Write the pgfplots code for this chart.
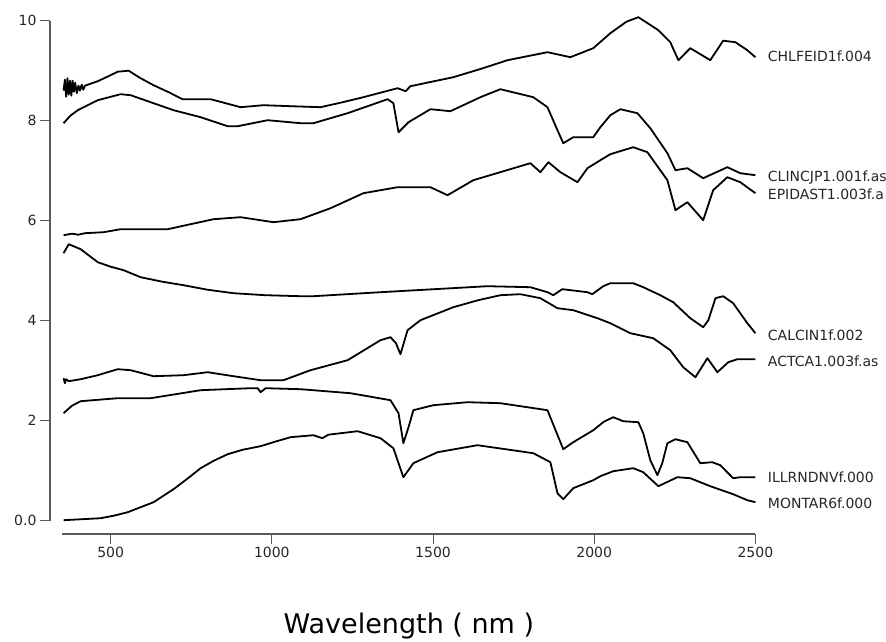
\documentclass[border=0pt]{standalone}
\usepackage{fontspec}
\setmainfont{DejaVu Sans}
\usepackage{pgfplots}
\pgfplotsset{compat=1.18}
\begin{document}
\begin{tikzpicture}
\path[use as bounding box] (-62.3pt,-120.3pt) rectangle (823.7pt,520.7pt);
\begin{axis}[
  at={(0pt,0pt)}, anchor=south west,
  scale only axis, width=693.1pt, height=500pt,
  xmin=350, xmax=2500, ymin=0, ymax=10, clip=false,
  axis x line*=bottom, axis y line*=left,
  axis line style={-, draw=black!65, line width=1.2pt},
  axis x line shift=13.3pt, axis y line shift=12.3pt,
  tick align=outside, major tick length=10pt,
  tick style={draw=black!65, line width=1pt},
  xtick={500,1000,1500,2000,2500}, xticklabels={500,1000,1500,2000,2500},
  ytick={0,2,4,6,8,10}, yticklabels={0.0,2,4,6,8,10},
  tick label style={font=\fontsize{14}{16}\selectfont, text=black!85},
  xlabel={Wavelength ( nm )},
  x label style={at={(axis description cs:0.5,0)}, anchor=base, yshift=-112.3pt,
                 font=\fontsize{27}{30}\selectfont},
  spec/.style={black, solid, line width=1.8pt, line join=round, no marks},
]
% CHLFEID1f.004
\addplot[spec] coordinates {(354,8.6) (358,8.82) (362,8.48) (366,8.85) (370,8.52) (374,8.8) (378,8.5) (382,8.8) (386,8.58) (390,8.76) (395,8.55) (400,8.7) (405,8.6) (410,8.72) (415,8.62) (420,8.7) (460,8.79) (490,8.88) (522,8.98) (556,9.0) (590,8.86) (633,8.71) (680,8.57) (723,8.43) (810,8.43) (903,8.27) (974,8.31) (1058,8.29) (1151,8.27) (1220,8.37) (1284,8.47) (1390,8.65) (1415,8.59) (1430,8.69) (1563,8.87) (1650,9.04) (1731,9.21) (1855,9.37) (1926,9.27) (1997,9.45) (2050,9.75) (2100,9.98) (2137,10.07) (2199,9.81) (2236,9.57) (2261,9.21) (2298,9.45) (2360,9.21) (2400,9.6) (2438,9.57) (2475,9.41) (2500,9.27)};
% CLINCJP1.001f.asc
\addplot[spec] coordinates {(354,7.95) (375,8.1) (398,8.21) (460,8.41) (531,8.53) (562,8.51) (624,8.37) (695,8.21) (779,8.07) (863,7.89) (894,7.89) (987,8.01) (1089,7.95) (1129,7.95) (1235,8.15) (1359,8.43) (1377,8.35) (1393,7.77) (1424,7.97) (1492,8.23) (1554,8.19) (1647,8.47) (1709,8.63) (1811,8.47) (1855,8.27) (1886,7.81) (1904,7.55) (1935,7.67) (1997,7.67) (2019,7.87) (2050,8.11) (2081,8.23) (2134,8.15) (2174,7.85) (2227,7.35) (2252,7.01) (2289,7.05) (2338,6.85) (2413,7.07) (2453,6.95) (2500,6.91)};
% EPIDAST1.003f.asc
\addplot[spec] coordinates {(354,5.71) (380,5.74) (400,5.72) (420,5.75) (478,5.77) (531,5.83) (677,5.83) (819,6.03) (903,6.07) (1005,5.97) (1089,6.03) (1182,6.25) (1284,6.55) (1390,6.67) (1492,6.67) (1545,6.51) (1625,6.81) (1802,7.15) (1833,6.97) (1858,7.17) (1895,6.97) (1948,6.77) (1979,7.05) (2019,7.21) (2050,7.33) (2121,7.47) (2165,7.37) (2227,6.81) (2252,6.21) (2289,6.37) (2338,6.01) (2369,6.61) (2413,6.87) (2453,6.77) (2500,6.55)};
% CALCIN1f.002
\addplot[spec] coordinates {(354,5.35) (370,5.53) (407,5.43) (460,5.17) (500,5.08) (540,5.01) (593,4.87) (660,4.78) (726,4.71) (800,4.62) (881,4.55) (980,4.51) (1089,4.49) (1129,4.49) (1337,4.57) (1669,4.69) (1802,4.67) (1855,4.57) (1873,4.51) (1901,4.63) (1979,4.57) (1994,4.53) (2028,4.69) (2050,4.75) (2121,4.75) (2152,4.67) (2205,4.51) (2245,4.37) (2298,4.05) (2338,3.87) (2354,4.01) (2376,4.45) (2400,4.49) (2431,4.35) (2475,3.95) (2500,3.75)};
% ACTCA1.003f.asc
\addplot[spec] coordinates {(354,2.85) (358,2.75) (362,2.83) (370,2.79) (407,2.83) (460,2.91) (522,3.03) (562,3.01) (633,2.89) (726,2.91) (801,2.97) (881,2.89) (965,2.81) (1036,2.81) (1120,3.01) (1235,3.21) (1337,3.61) (1368,3.67) (1385,3.55) (1399,3.33) (1421,3.81) (1461,4.01) (1563,4.27) (1640,4.41) (1709,4.51) (1771,4.53) (1833,4.45) (1886,4.25) (1935,4.21) (2010,4.05) (2050,3.95) (2112,3.75) (2183,3.65) (2236,3.41) (2276,3.07) (2314,2.87) (2351,3.25) (2382,2.97) (2416,3.17) (2444,3.23) (2500,3.23)};
% ILLRNDNVf.000
\addplot[spec] coordinates {(354,2.15) (380,2.3) (407,2.39) (522,2.45) (624,2.45) (779,2.61) (934,2.65) (956,2.65) (965,2.57) (981,2.65) (1089,2.63) (1244,2.55) (1368,2.41) (1393,2.15) (1408,1.55) (1424,1.87) (1439,2.21) (1501,2.31) (1607,2.37) (1709,2.35) (1855,2.21) (1880,1.81) (1904,1.43) (1935,1.57) (1997,1.81) (2030,1.98) (2059,2.07) (2090,1.99) (2137,1.97) (2152,1.75) (2174,1.21) (2196,0.91) (2211,1.15) (2227,1.55) (2252,1.63) (2289,1.57) (2329,1.15) (2366,1.17) (2391,1.11) (2431,0.85) (2453,0.87) (2500,0.87)};
% MONTAR6f.000
\addplot[spec] coordinates {(354,0.01) (469,0.05) (510,0.1) (553,0.17) (633,0.37) (695,0.63) (740,0.85) (779,1.05) (820,1.2) (863,1.33) (910,1.42) (965,1.49) (1010,1.58) (1058,1.67) (1129,1.71) (1157,1.65) (1175,1.72) (1266,1.79) (1337,1.65) (1377,1.45) (1408,0.87) (1439,1.15) (1514,1.37) (1638,1.51) (1811,1.35) (1864,1.17) (1886,0.55) (1904,0.43) (1935,0.65) (1997,0.81) (2019,0.89) (2059,0.99) (2121,1.05) (2152,0.97) (2199,0.69) (2258,0.87) (2298,0.85) (2360,0.69) (2431,0.53) (2475,0.41) (2500,0.37)};
% curve names at the right-hand ends
\begin{scope}[every node/.style={anchor=west, xshift=9pt, font=\fontsize{14}{16}\selectfont, text=black!85}]
\node at (axis cs:2500,9.29) {CHLFEID1f.004};
\node at (axis cs:2500,6.87) {CLINCJP1.001f.as};
\node at (axis cs:2500,6.53) {EPIDAST1.003f.a};
\node at (axis cs:2500,3.71) {CALCIN1f.002};
\node at (axis cs:2500,3.19) {ACTCA1.003f.as};
\node at (axis cs:2500,0.87) {ILLRNDNVf.000};
\node at (axis cs:2500,0.35) {MONTAR6f.000};
\end{scope}
\end{axis}
\end{tikzpicture}
\end{document}
